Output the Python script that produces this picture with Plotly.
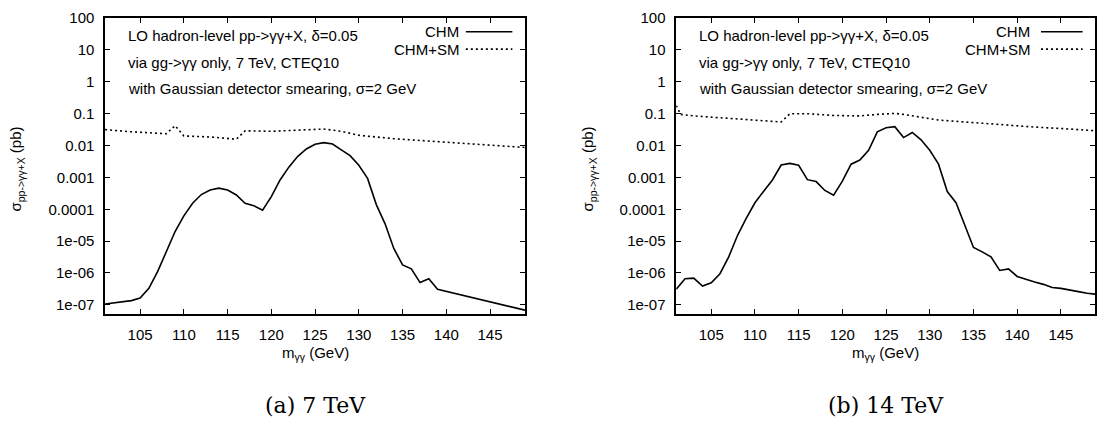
import plotly.graph_objects as go

# ---------------- data ----------------
# (a) 7 TeV
x7_chm = [101, 104, 105, 106, 107, 108, 109, 110, 111, 112, 113, 114, 115, 116, 117, 118, 119,
          120, 121, 122, 123, 124, 125, 126, 127, 128, 129, 130, 131, 132, 133, 134, 135, 136,
          137, 138, 139, 149]
y7_chm = [1.07e-7, 1.36e-7, 1.64e-7, 3.3e-7, 1.1e-6, 4.7e-6, 2.0e-5, 6.2e-5, 1.55e-4, 2.9e-4,
          4.0e-4, 4.6e-4, 4.0e-4, 2.8e-4, 1.55e-4, 1.3e-4, 9.3e-5, 2.5e-4, 8.3e-4, 2.1e-3,
          4.5e-3, 7.8e-3, 0.011, 0.0123, 0.0112, 7.3e-3, 4.8e-3, 2.4e-3, 9.3e-4, 1.4e-4,
          3.5e-5, 5.9e-6, 1.8e-6, 1.35e-6, 5.0e-7, 6.6e-7, 3.1e-7, 6.8e-8]
x7_sm = [101, 104, 108, 109, 110, 113, 116, 117, 120, 123, 126, 128, 130, 134, 138, 142, 146, 149]
y7_sm = [0.0316, 0.027, 0.0235, 0.042, 0.020, 0.0186, 0.0158, 0.029, 0.028, 0.030, 0.033,
         0.028, 0.021, 0.0164, 0.0138, 0.0115, 0.0098, 0.0087]

# (b) 14 TeV
x14_chm = list(range(101, 150))
y14_chm = [3.1e-7, 6.6e-7, 6.9e-7, 3.9e-7, 4.9e-7, 9.5e-7, 3.2e-6, 1.5e-5, 5.2e-5, 1.6e-4,
           3.7e-4, 8.3e-4, 2.45e-3, 2.75e-3, 2.4e-3, 8.5e-4, 7.4e-4, 3.9e-4, 2.75e-4, 7.6e-4,
           2.6e-3, 3.5e-3, 7.1e-3, 0.027, 0.036, 0.039, 0.0178, 0.0257, 0.0151, 7.1e-3,
           2.6e-3, 3.6e-4, 1.6e-4, 3.3e-5, 6.3e-6, 4.6e-6, 3.2e-6, 1.2e-6, 1.35e-6, 7.8e-7,
           6.3e-7, 5.2e-7, 4.4e-7, 3.5e-7, 3.3e-7, 3.0e-7, 2.6e-7, 2.3e-7, 2.15e-7]
x14_sm = [101, 101.5, 103, 106, 109, 111, 113, 114, 116, 119, 122, 124, 126, 127, 129, 131,
          134, 138, 142, 146, 149]
y14_sm = [0.18, 0.095, 0.085, 0.075, 0.066, 0.060, 0.055, 0.10, 0.10, 0.088, 0.085, 0.095,
          0.102, 0.095, 0.078, 0.063, 0.055, 0.045, 0.038, 0.033, 0.029]

x_ticks = [105, 110, 115, 120, 125, 130, 135, 140, 145]
y_ticks = [1e-7, 1e-6, 1e-5, 1e-4, 1e-3, 1e-2, 1e-1, 1, 10, 100]
y_ticktext = ["1e-07", "1e-06", "1e-05", "0.0001", "0.001", "0.01", "0.1", "1", "10", "100"]

info_lines = ["LO hadron-level pp-&gt;γγ+X, δ=0.05",
              "via gg-&gt;γγ only, 7 TeV, CTEQ10",
              "with Gaussian detector smearing, σ=2 GeV"]
legend_names = ["CHM", "CHM+SM"]
captions = ["(a) 7 TeV", "(b) 14 TeV"]

# ---------------- layout geometry (window pixels) ----------------
W, H = 1097, 425
FONT = "Liberation Sans, Arial, sans-serif"
fs = 15

def fx(p):
    return p / W

def fy(p):
    return 1 - p / H

panels = [
    dict(x0=105.3, x1=526.0, xr=[101, 149]),
    dict(x0=677.5, x1=1097.0, xr=[101, 148.9]),
]
top, bottom = 9.3, 311.7

fig = go.Figure()
series = [(x7_chm, y7_chm, x7_sm, y7_sm), (x14_chm, y14_chm, x14_sm, y14_sm)]
for i, (xa, ya, xb, yb) in enumerate(series):
    ax = "x" if i == 0 else "x2"
    ay = "y" if i == 0 else "y2"
    fig.add_trace(go.Scatter(x=xa, y=ya, mode="lines", xaxis=ax, yaxis=ay,
                             line=dict(color="black", width=1.6), name=legend_names[0],
                             showlegend=False))
    fig.add_trace(go.Scatter(x=xb, y=yb, mode="lines", xaxis=ax, yaxis=ay,
                             line=dict(color="black", width=1.6, dash="2px,3px"),
                             name=legend_names[1], showlegend=False))

axis_common = dict(showline=True, linecolor="black", linewidth=1.5, mirror="ticks",
                   ticks="inside", ticklen=5, tickwidth=1, tickcolor="black",
                   showgrid=False, zeroline=False, ticklabeloverflow="allow",
                   tickfont=dict(family=FONT, size=fs, color="black"))

for i, p in enumerate(panels):
    sfx = "" if i == 0 else "2"
    fig.update_layout(**{
        "xaxis" + sfx: dict(domain=[fx(p["x0"]), min(1.0, fx(p["x1"]))], range=p["xr"],
                            tickvals=x_ticks, anchor="y" + sfx, ticklabelstandoff=6,
                            **axis_common),
        "yaxis" + sfx: dict(domain=[fy(bottom), fy(top)], type="log", range=[-7.29, 2],
                            tickvals=y_ticks, ticktext=y_ticktext, anchor="x" + sfx,
                            ticklabelstandoff=6, **axis_common),
    })

annotations = []
shapes = []
text_x = [126.7, 698.7]
leg_text_right = [461.7, 1034.3]
leg_line = [(466.7, 513.3), (1042.9, 1084.6)]
for i, p in enumerate(panels):
    cx = (p["x0"] + p["x1"]) / 2
    for j, (ty, txt) in enumerate(zip([26.7, 55.0, 81.7], info_lines)):
        annotations.append(dict(x=fx(text_x[i]), y=fy(ty), xref="paper", yref="paper",
                                text=txt, showarrow=False, xanchor="left", yanchor="middle",
                                font=dict(family=FONT, size=fs, color="black")))
    for j, ly in enumerate([23.3, 41.0]):
        annotations.append(dict(x=fx(leg_text_right[i]), y=fy(ly), xref="paper", yref="paper",
                                text=legend_names[j], showarrow=False, xanchor="right",
                                yanchor="middle",
                                font=dict(family=FONT, size=fs, color="black")))
        shapes.append(dict(type="line", xref="paper", yref="paper",
                           x0=fx(leg_line[i][0]), x1=fx(leg_line[i][1]), y0=fy(ly), y1=fy(ly),
                           line=dict(color="black", width=1.6,
                                     dash="solid" if j == 0 else "2px,3px")))
    # axis titles
    annotations.append(dict(x=fx(cx), y=fy(352), xref="paper", yref="paper",
                            text="m<sub>γγ</sub> (GeV)", showarrow=False,
                            xanchor="center", yanchor="middle",
                            font=dict(family=FONT, size=fs, color="black")))
    annotations.append(dict(x=fx([17, 590][i]), y=fy(163), xref="paper", yref="paper",
                            text="σ<sub>pp-&gt;γγ+X</sub> (pb)", showarrow=False,
                            textangle=-90, xanchor="center", yanchor="middle",
                            font=dict(family=FONT, size=fs, color="black")))
    annotations.append(dict(x=fx(cx), y=fy(405), xref="paper", yref="paper",
                            text=captions[i], showarrow=False,
                            xanchor="center", yanchor="middle",
                            font=dict(family="DejaVu Serif, serif", size=22, color="black")))

fig.update_layout(width=W, height=H, margin=dict(l=0, r=0, t=0, b=0),
                  paper_bgcolor="white", plot_bgcolor="white",
                  annotations=annotations, shapes=shapes, showlegend=False)

# remove the default 8px page margin so the figure fills the window exactly
fig.write_html("out.html",
               config={"displayModeBar": False},
               post_script="document.body.style.margin='0';"
                           "document.documentElement.style.overflow='hidden';")
